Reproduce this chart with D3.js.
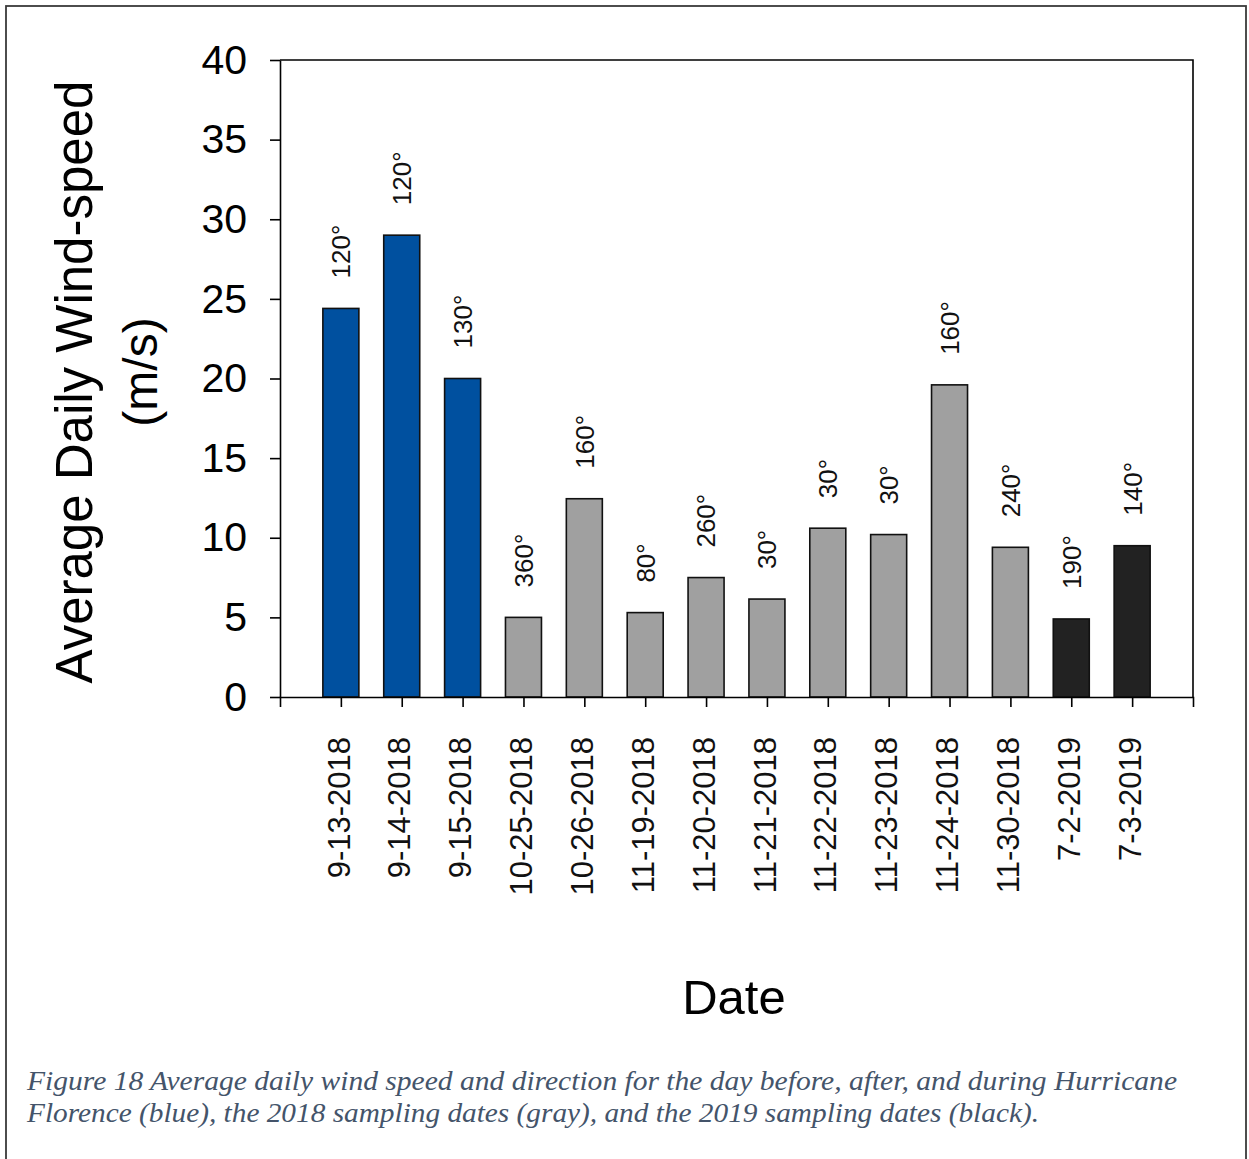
<!DOCTYPE html>
<html>
<head>
<meta charset="utf-8">
<script src="https://cdn.jsdelivr.net/npm/d3@7"></script>
<style>
  html, body { margin: 0; padding: 0; background: #fff; }
  svg { display: block; }
</style>
</head>
<body>
<svg id="chart" width="1249" height="1159"></svg>
<script>
// Sampling dates, average daily wind speed (m/s) and prevailing direction (degrees)
const dates = [
  "9-13-2018", "9-14-2018", "9-15-2018", "10-25-2018", "10-26-2018",
  "11-19-2018", "11-20-2018", "11-21-2018", "11-22-2018", "11-23-2018",
  "11-24-2018", "11-30-2018", "7-2-2019", "7-3-2019"
];
const speeds = [24.4, 29.0, 20.0, 5.0, 12.45, 5.3, 7.5, 6.15, 10.6, 10.2, 19.6, 9.4, 4.9, 9.5];
const directions = [120, 120, 130, 360, 160, 80, 260, 30, 30, 30, 160, 240, 190, 140];
const groups = [
  "florence", "florence", "florence",
  "y2018", "y2018", "y2018", "y2018", "y2018", "y2018", "y2018", "y2018", "y2018",
  "y2019", "y2019"
];
const yTicks = [0, 5, 10, 15, 20, 25, 30, 35, 40];

const groupColor = { florence: "#00509f", y2018: "#a0a0a0", y2019: "#222222" };

const rows = dates.map((d, i) => ({ date: d, speed: speeds[i], dir: directions[i], group: groups[i] }));

const svg = d3.select("#chart");
const sans = "'Liberation Sans', Arial, sans-serif";

// Outer figure border
svg.append("rect")
  .attr("x", 6).attr("y", 6)
  .attr("width", 1240).attr("height", 1170)
  .attr("fill", "none").attr("stroke", "#3a3a3a").attr("stroke-width", 1.8);

const plot = { left: 280, right: 1193, top: 60, bottom: 697 };

const x = d3.scalePoint().domain(dates).range([plot.left, plot.right]).padding(1);
const y = d3.scaleLinear().domain([0, 40]).range([plot.bottom, plot.top]);
const barW = 36;

// Plot frame (top and right edges)
svg.append("path")
  .attr("d", `M${plot.left},${plot.top}H${plot.right}V${plot.bottom}`)
  .attr("fill", "none").attr("stroke", "#000").attr("stroke-width", 1.6);

// Bars
svg.append("g").selectAll("rect").data(rows).join("rect")
  .attr("x", d => x(d.date) - barW / 2)
  .attr("y", d => y(d.speed))
  .attr("width", barW)
  .attr("height", d => y(0) - y(d.speed))
  .attr("fill", d => groupColor[d.group])
  .attr("stroke", "#111").attr("stroke-width", 1.6);

// Wind direction labels above each bar
svg.append("g").selectAll("text").data(rows).join("text")
  .attr("transform", d => `translate(${x(d.date)},${y(d.speed) - 30}) rotate(-90)`)
  .attr("dy", "0.36em")
  .attr("text-anchor", "start")
  .attr("font-family", sans).attr("font-size", 26).attr("fill", "#111")
  .text(d => d.dir + "°");

// Y axis
const yAxis = svg.append("g")
  .attr("transform", `translate(${plot.left},0)`)
  .call(d3.axisLeft(y).tickValues(yTicks).tickSize(10).tickSizeOuter(0).tickPadding(23));
yAxis.select(".domain").attr("stroke-width", 1.6);
yAxis.selectAll(".tick line").attr("stroke-width", 1.6);
yAxis.selectAll(".tick text")
  .attr("font-family", sans).attr("font-size", 41).attr("fill", "#000");

// X axis (outer ticks mark both ends of the category range)
const xAxis = svg.append("g")
  .attr("transform", `translate(0,${plot.bottom})`)
  .call(d3.axisBottom(x).tickSize(10).tickSizeOuter(10).tickPadding(0));
xAxis.select(".domain").attr("stroke-width", 1.6);
xAxis.selectAll(".tick line").attr("stroke-width", 1.6);
xAxis.selectAll(".tick text")
  .attr("font-family", sans).attr("font-size", 31).attr("fill", "#111")
  .attr("text-anchor", "end")
  .attr("transform", "translate(-3,40) rotate(-90)")
  .attr("x", 0).attr("y", 0).attr("dy", "0.36em");

// Axis titles
svg.append("text")
  .attr("transform", "translate(92,382) rotate(-90)")
  .attr("text-anchor", "middle")
  .attr("font-family", sans).attr("font-size", 51).attr("fill", "#000")
  .text("Average Daily Wind-speed");
svg.append("text")
  .attr("transform", "translate(157,372) rotate(-90)")
  .attr("text-anchor", "middle")
  .attr("font-family", sans).attr("font-size", 48).attr("fill", "#000")
  .text("(m/s)");

svg.append("text")
  .attr("x", 734).attr("y", 1014)
  .attr("text-anchor", "middle")
  .attr("font-family", sans).attr("font-size", 49).attr("fill", "#000")
  .text("Date");

// Figure caption
const caption = [
  "Figure 18 Average daily wind speed and direction for the day before, after, and during Hurricane",
  "Florence (blue), the 2018 sampling dates (gray), and the 2019 sampling dates (black)."
];
const capWidths = [1150, 1012];
svg.append("g").selectAll("text").data(caption).join("text")
  .attr("x", 27)
  .attr("y", (d, i) => 1090 + i * 32)
  .attr("font-family", "'Liberation Serif', 'Times New Roman', serif")
  .attr("font-style", "italic")
  .attr("font-size", 28)
  .attr("fill", "#44546a")
  .attr("textLength", (d, i) => capWidths[i])
  .attr("lengthAdjust", "spacingAndGlyphs")
  .text(d => d);
</script>
</body>
</html>
